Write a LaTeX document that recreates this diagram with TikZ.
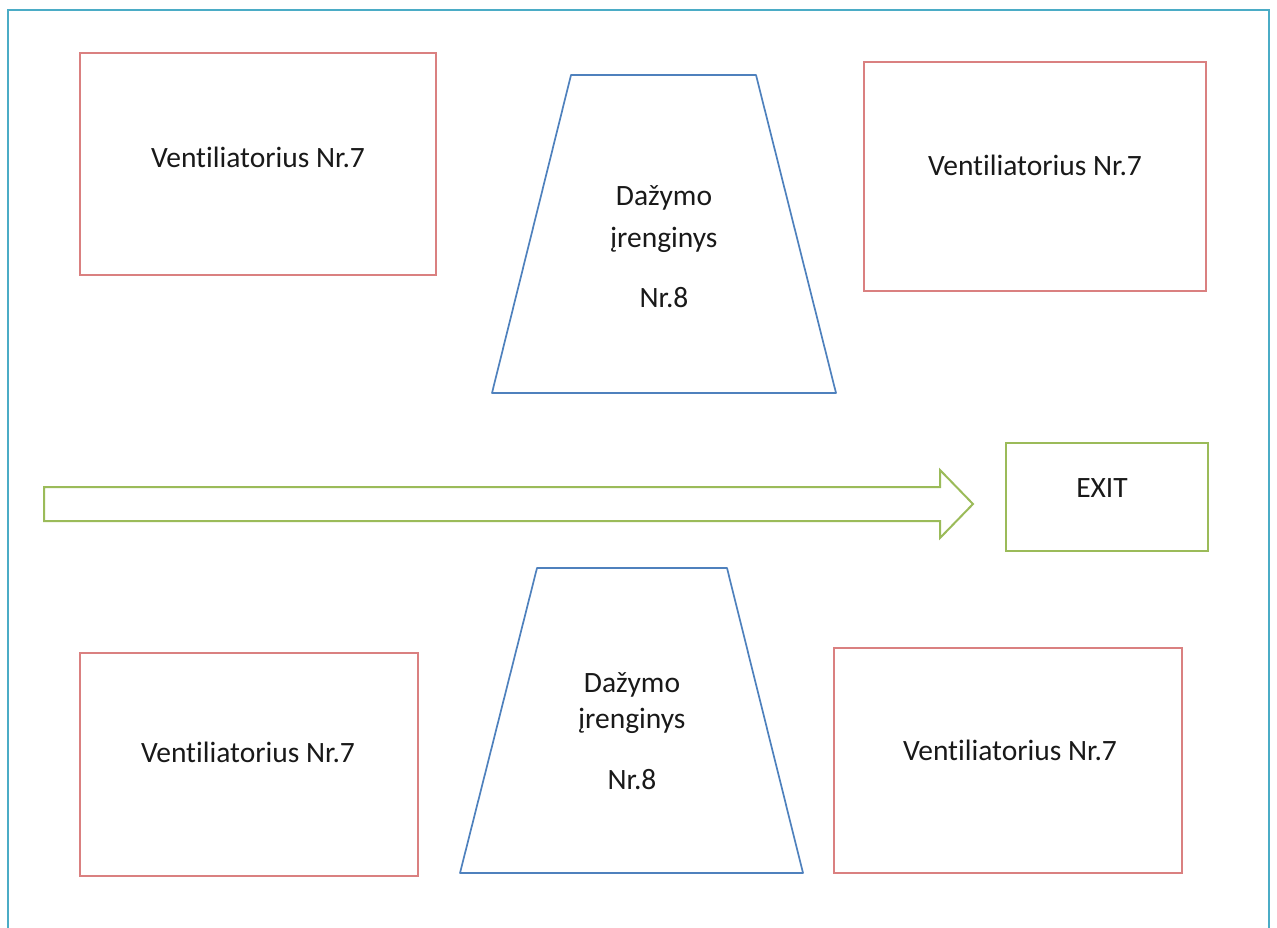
\documentclass[tikz,border=0pt]{standalone}
\usepackage{fontspec}
\setmainfont[Ligatures=NoCommon]{Carlito}
\definecolor{frameblue}{RGB}{75,172,198}
\definecolor{fanred}{RGB}{218,128,128}
\definecolor{paintblue}{RGB}{79,129,189}
\definecolor{exitgreen}{RGB}{155,187,89}
\definecolor{txt}{RGB}{25,25,25}
\begin{document}
\begin{tikzpicture}[x=1pt,y=-1pt,
  fanbox/.style={draw=fanred,line width=1.8pt},
  painter/.style={draw=paintblue,line width=1.7pt,line join=round},
  exitline/.style={draw=exitgreen,line width=2pt,line join=miter},
  lbl/.style={font=\fontsize{29.5}{34}\selectfont,text=txt,inner sep=0pt}]
\useasboundingbox (0,0) rectangle (1277,927);
% outer frame (runs past the bottom edge)
\draw[frameblue,line width=2pt] (8,940) -- (8,10) -- (1269,10) -- (1269,940);

% fans, top row
\draw[fanbox] (80,53) rectangle (436,275);
\node[lbl] (fan1) at (258,157) {Ventiliatorius Nr.7};
\draw[fanbox] (864,62) rectangle (1206,291);
\node[lbl] (fan2) at (1035,165) {Ventiliatorius Nr.7};

% painting unit, top
\draw[painter] (571,75) -- (756,75) -- (836,393) -- (492,393) -- cycle;
\node[lbl] (pt1) at (664,198) {Dažymo};
\node[lbl] (pt2) at (664,240) {įrenginys};
\node[lbl] (pt3) at (664,298) {Nr.8};

% flow arrow towards the exit
\draw[exitline] (44,487) -- (940,487) -- (940,470) -- (973,504) -- (940,538) -- (940,521) -- (44,521) -- cycle;
\draw[exitline] (1006,443) rectangle (1208,551);
\node[lbl] (exit) at (1102,488) {EXIT};

% painting unit, bottom
\draw[painter] (537,568) -- (727,568) -- (803,873) -- (460,873) -- cycle;
\node[lbl] (pb1) at (632,685) {Dažymo};
\node[lbl] (pb2) at (632,721) {įrenginys};
\node[lbl] (pb3) at (632,780) {Nr.8};

% fans, bottom row
\draw[fanbox] (80,653) rectangle (418,876);
\node[lbl] (fan3) at (248,752) {Ventiliatorius Nr.7};
\draw[fanbox] (834,648) rectangle (1182,873);
\node[lbl] (fan4) at (1010,750) {Ventiliatorius Nr.7};
\end{tikzpicture}
\end{document}
